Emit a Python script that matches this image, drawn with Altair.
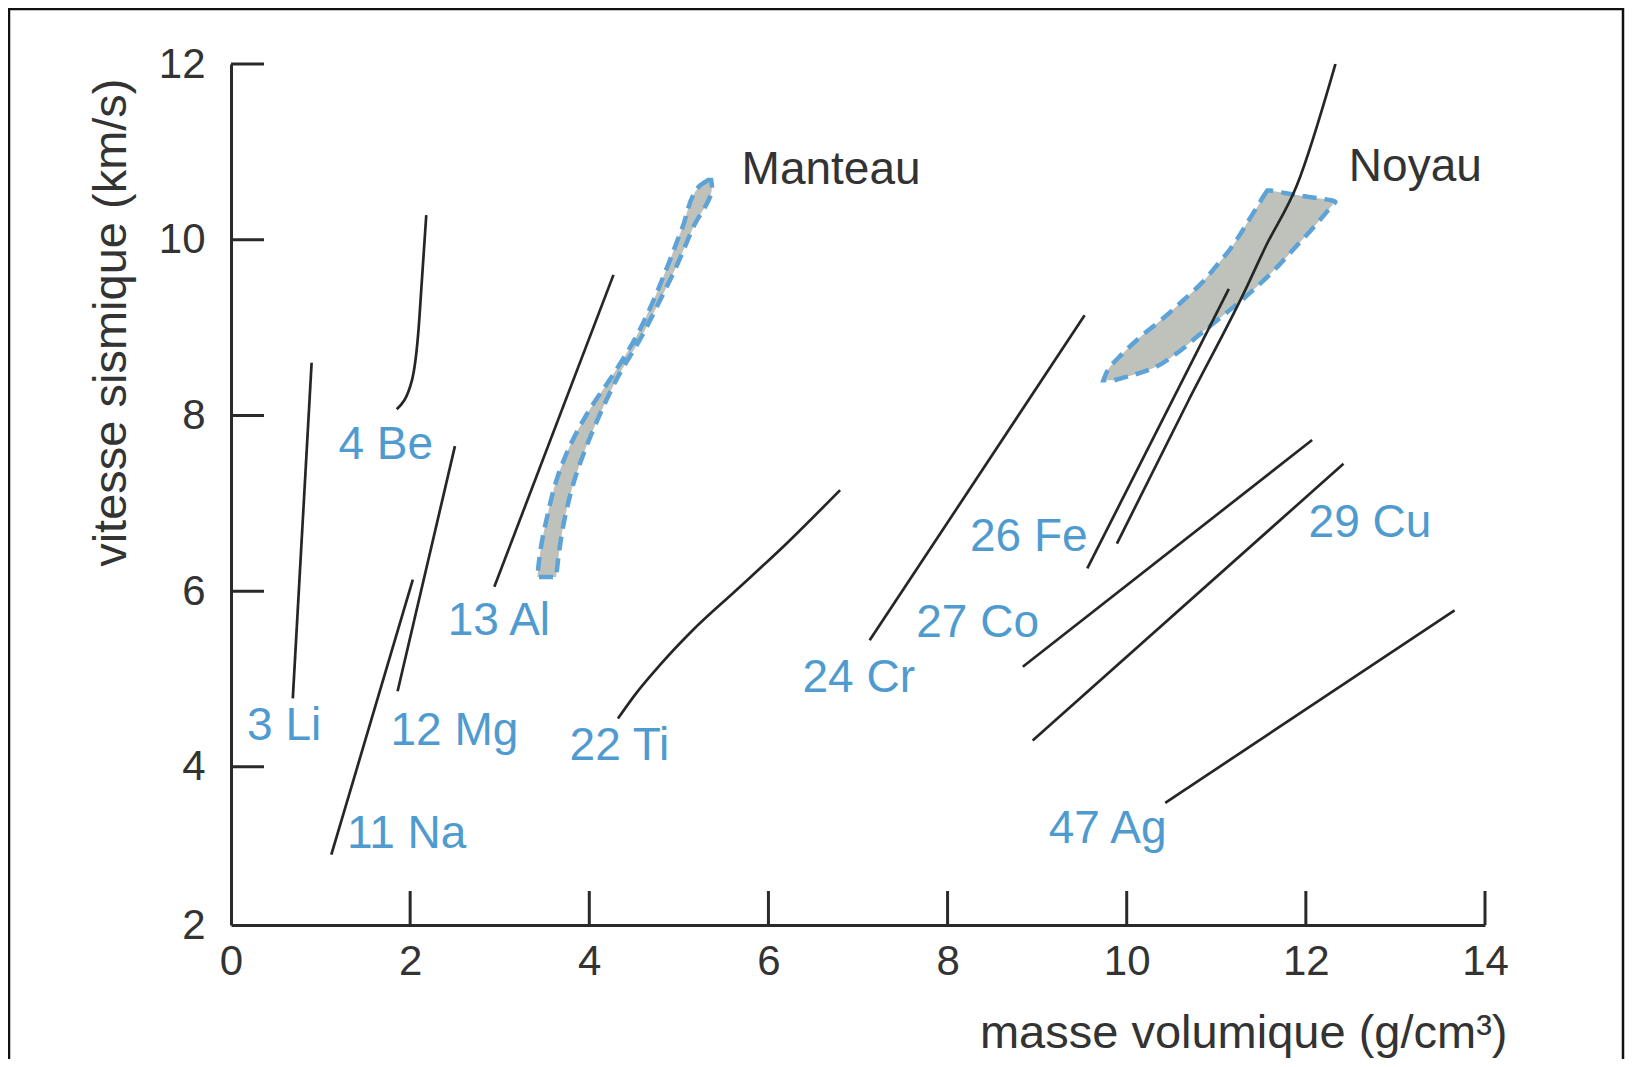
import altair as alt
import pandas as pd

# ---------------- data ----------------
# element curves: density (g/cm3) vs seismic velocity (km/s)
li_x = [0.69, 0.90]
li_y = [4.78, 8.60]
be_x = [1.85, 2.02, 2.09, 2.13, 2.18]
be_y = [8.07, 8.40, 8.93, 9.52, 10.28]
na_x = [1.12, 2.03]
na_y = [3.00, 6.13]
mg_x = [1.86, 2.50]
mg_y = [4.86, 7.65]
al_x = [2.94, 4.27]
al_y = [6.05, 9.60]
ti_x = [4.32, 4.51, 4.79, 5.16, 5.64, 6.20, 6.80]
ti_y = [4.55, 4.82, 5.16, 5.56, 6.01, 6.54, 7.15]
cr_x = [7.13, 9.53]
cr_y = [5.44, 9.14]
fe1_x = [9.56, 11.14]
fe1_y = [6.26, 9.44]
fe2_x = [9.89, 10.69, 11.33, 11.55, 11.90, 12.33]
fe2_y = [6.54, 8.17, 9.44, 9.92, 10.62, 12.00]
co_x = [8.84, 12.07]
co_y = [5.14, 7.72]
cu_x = [8.95, 12.42]
cu_y = [4.30, 7.45]
ag_x = [10.43, 13.66]
ag_y = [3.59, 5.78]

# shaded domains (mantle, core): velocity and left/right density limits
manteau_y = [6.16, 6.50, 6.85, 7.25, 7.60, 8.06, 8.44, 8.89, 9.27, 9.69, 10.14, 10.60, 10.68]
manteau_left = [3.42, 3.46, 3.53, 3.63, 3.76, 4.00, 4.25, 4.52, 4.70, 4.87, 5.04, 5.22, 5.33]
manteau_right = [3.63, 3.67, 3.73, 3.83, 3.95, 4.14, 4.32, 4.58, 4.77, 4.97, 5.16, 5.37, 5.36]
noyau_y = [8.40, 8.52, 8.70, 8.90, 9.10, 9.30, 9.50, 9.70, 9.90, 10.10, 10.30, 10.41, 10.43, 10.50, 10.56]
noyau_left = [9.74, 9.79, 9.95, 10.16, 10.40, 10.62, 10.83, 11.00, 11.16, 11.29, 11.41, 11.48, 11.49, 11.53, 11.57]
noyau_right = [9.86, 10.25, 10.55, 10.79, 11.03, 11.27, 11.49, 11.69, 11.87, 12.05, 12.22, 12.31, 12.33, 11.95, 11.60]

# element labels
label_text = ["3 Li", "4 Be", "11 Na", "12 Mg", "13 Al", "22 Ti", "24 Cr",
              "26 Fe", "27 Co", "29 Cu", "47 Ag"]
label_x = [0.18, 1.20, 1.295, 1.78, 2.42, 3.78, 6.38, 8.25, 7.65, 12.03, 9.13]
label_y = [4.46, 7.66, 3.24, 4.41, 5.66, 4.24, 5.01, 6.62, 5.64, 6.77, 3.29]

zone_text = ["Manteau", "Noyau"]
zone_x = [5.70, 12.48]
zone_y = [10.79, 10.83]

x_axis_vals = [0, 2, 4, 6, 8, 10, 12, 14]
y_axis_vals = [2.2, 4, 6, 8, 10, 12]
x_tick_vals = [2, 4, 6, 8, 10, 12, 14]
y_tick_vals = [4, 6, 8, 10, 12]

# ---------------- build tables ----------------
curves = {
    "Li": (li_x, li_y), "Be": (be_x, be_y), "Na": (na_x, na_y),
    "Mg": (mg_x, mg_y), "Al": (al_x, al_y), "Ti": (ti_x, ti_y),
    "Cr": (cr_x, cr_y), "Fe1": (fe1_x, fe1_y), "Fe2": (fe2_x, fe2_y),
    "Co": (co_x, co_y), "Cu": (cu_x, cu_y), "Ag": (ag_x, ag_y),
}
rows = []
for name, (xs_, ys_) in curves.items():
    for i, (a, b) in enumerate(zip(xs_, ys_)):
        rows.append({"curve": name, "i": i, "x": a, "y": b})
lines_df = pd.DataFrame(rows)

brows = []
for name, (ys_, ls_, rs_) in {"Manteau": (manteau_y, manteau_left, manteau_right),
                              "Noyau": (noyau_y, noyau_left, noyau_right)}.items():
    for a, l, r in zip(ys_, ls_, rs_):
        brows.append({"band": name, "y": a, "x": l, "x2": r})
band_df = pd.DataFrame(brows)

labels_df = pd.DataFrame({"t": label_text, "x": label_x, "y": label_y})
zones_df = pd.DataFrame({"t": zone_text, "x": zone_x, "y": zone_y})

W, H = 1254, 861
FONT = "Liberation Sans"
BLUE = "#4f9bd0"
INK = "#2a2a2a"
XT = "masse volumique (g/cm³)"
YT = "vitesse sismique (km/s)"

xs = alt.Scale(domain=[0, 14], nice=False, zero=False)
ys = alt.Scale(domain=[2.2, 12], nice=False, zero=False)

x_axis = alt.Axis(
    values=x_axis_vals, title=XT, grid=False, ticks=False,
    domainColor=INK, domainWidth=3, labelFont=FONT, labelFontSize=42,
    labelColor="#333333", labelPadding=16, labelFlush=False, labelOverlap=False,
    titleFont=FONT, titleFontSize=47, titleFontWeight="normal", titleColor="#333333",
    titleAlign="right", titleBaseline="alphabetic", titleX=1276, titleY=122,
)
y_axis = alt.Axis(
    values=y_axis_vals, labelExpr="datum.value < 3 ? '2' : datum.label",
    title=YT, grid=False, ticks=False,
    domainColor=INK, domainWidth=3, labelFont=FONT, labelFontSize=42,
    labelColor="#333333", labelPadding=26, labelFlush=False, labelOverlap=False,
    titleFont=FONT, titleFontSize=47, titleFontWeight="normal", titleColor="#333333",
    titleAngle=270, titleAlign="right", titleBaseline="alphabetic",
    titleX=-106, titleY=14,
)


def X(field):
    return alt.X(field, scale=xs, axis=x_axis, title=XT)


def Y(field):
    return alt.Y(field, scale=ys, axis=y_axis, title=YT)


frame = alt.Chart(pd.DataFrame({"f": [0]})).mark_rect(
    fillOpacity=0, stroke="#111111", strokeWidth=2.5
).encode(x=alt.value(-222), x2=alt.value(1392), y=alt.value(-55), y2=alt.value(1040))

bands = alt.Chart(band_df).mark_area(
    orient="horizontal", fill="#bfc2ba", fillOpacity=1, stroke="#5ea3d8",
    strokeWidth=4.5, strokeDash=[14, 8], interpolate="monotone"
).encode(
    y=Y("y:Q"),
    x=X("x:Q"),
    x2="x2:Q",
    detail="band:N",
)

lines = alt.Chart(lines_df).mark_line(
    color="#262626", strokeWidth=2.7, interpolate="monotone"
).encode(
    x=X("x:Q"),
    y=Y("y:Q"),
    detail="curve:N",
    order=alt.Order("i:Q"),
)

xticks = alt.Chart(pd.DataFrame({"x": x_tick_vals})).mark_rule(color=INK, strokeWidth=3).encode(
    x=X("x:Q"), y=alt.value(H), y2=alt.value(H - 34)
)
yticks = alt.Chart(pd.DataFrame({"y": y_tick_vals})).mark_rule(color=INK, strokeWidth=3).encode(
    y=Y("y:Q"), x=alt.value(0), x2=alt.value(33)
)

labels = alt.Chart(labels_df).mark_text(
    align="left", baseline="middle", font=FONT, fontSize=46, color=BLUE
).encode(x=X("x:Q"), y=Y("y:Q"), text="t:N")

zones = alt.Chart(zones_df).mark_text(
    align="left", baseline="middle", font=FONT, fontSize=46, color="#333333"
).encode(x=X("x:Q"), y=Y("y:Q"), text="t:N")

chart = alt.layer(frame, bands, lines, xticks, yticks, labels, zones).properties(
    width=W, height=H,
    padding={"left": 223, "top": 56, "right": 141, "bottom": 134},
    autosize=alt.AutoSizeParams(type="none"),
    background="white",
).configure_view(strokeWidth=0)

chart.save("out.html", embed_options={"renderer": "svg", "actions": False})
